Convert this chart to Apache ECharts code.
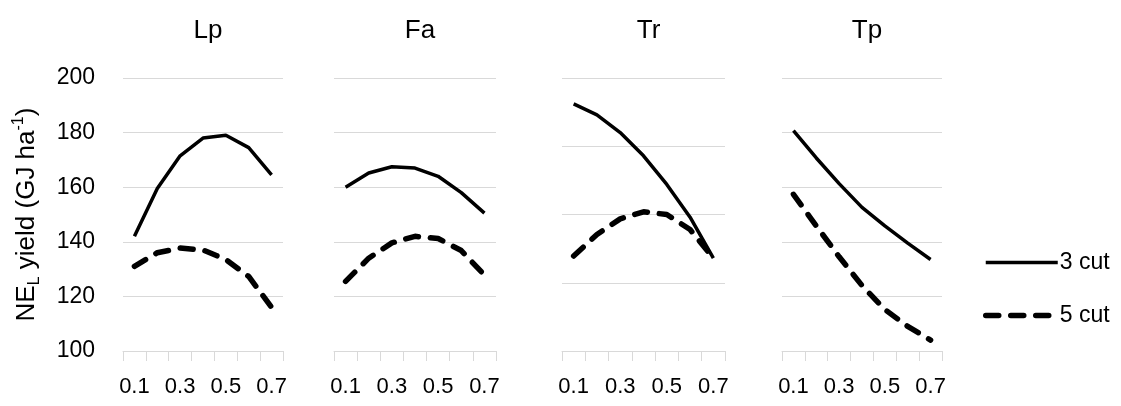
<!DOCTYPE html>
<html>
<head>
<meta charset="utf-8">
<script src="https://cdn.jsdelivr.net/npm/echarts@6/dist/echarts.min.js"></script>
<style>
  html, body { margin: 0; padding: 0; background: #fff; }
  #chart { width: 1121px; height: 406px; }
</style>
</head>
<body>
<div id="chart"></div>
<script>
const categories = ['0.1', '0.2', '0.3', '0.4', '0.5', '0.6', '0.7']
const panels = ['Lp', 'Fa', 'Tr', 'Tp']
const cut3 = [
  [142, 159.5, 171.5, 178, 179, 174.5, 164.5],
  [160, 165.2, 167.5, 167, 164, 158, 150.5],
  [190.5, 186.5, 180, 171.5, 161, 149, 134],
  [180.7, 170.7, 161.3, 152.6, 145.8, 139.5, 133.5],
]
const cut5 = [
  [131, 136, 137.7, 137, 133.5, 127.3, 116],
  [125.5, 134, 139.6, 142, 141.2, 136.8, 127.8],
  [134.8, 142.7, 148.4, 151, 150, 144.5, 134],
  [157.4, 145.8, 134.5, 124, 115.2, 109, 104],
]
const yIntervals = [20, 20, 25, 20]

const FONT = 'Liberation Sans'
const gridLeft = [123, 334, 562, 782]
const gridWidth = [160, 162, 163, 160]
const solidStyle = { color: '#000', width: 3.5 }
const dashStyle = { color: '#000', width: 5.5, type: [13, 12], cap: 'round' }

const chart = echarts.init(document.getElementById('chart'))

const option = {
  backgroundColor: '#fff',
  animation: false,
  textStyle: { fontFamily: FONT, color: '#000' },
  title: panels.map((p, i) => ({
    text: p,
    left: gridLeft[i] + gridWidth[i] / 2,
    top: 13,
    textAlign: 'center',
    textStyle: { fontFamily: FONT, fontSize: 26, fontWeight: 'normal', color: '#000' },
  })),
  legend: {
    orient: 'vertical',
    left: 978,
    top: 246,
    itemWidth: 72,
    itemHeight: 14,
    itemGap: 30,
    itemStyle: { opacity: 0 },
    textStyle: { fontFamily: FONT, fontSize: 23, color: '#000', padding: [0, 0, 0, -3] },
    data: [
      { name: '3 cut', lineStyle: solidStyle },
      { name: '5 cut', lineStyle: dashStyle },
    ],
  },
  grid: panels.map((p, i) => ({
    left: gridLeft[i],
    width: gridWidth[i],
    top: 78,
    height: 273,
  })),
  xAxis: panels.map((p, i) => ({
    type: 'category',
    gridIndex: i,
    data: categories,
    boundaryGap: true,
    axisLine: { lineStyle: { color: '#d9d9d9', width: 1 } },
    axisTick: { show: true, length: 10, interval: 0, lineStyle: { color: '#d9d9d9' } },
    axisLabel: { interval: 1, margin: 25, fontSize: 22, color: '#000', fontFamily: FONT },
    splitLine: { show: false },
  })),
  yAxis: panels.map((p, i) => ({
    type: 'value',
    gridIndex: i,
    min: 100,
    max: 200,
    interval: yIntervals[i],
    axisLine: { show: false },
    axisTick: { show: false },
    axisLabel: { show: i === 0, margin: 28, fontSize: 23, color: '#000', fontFamily: FONT },
    splitLine: { lineStyle: { color: '#d9d9d9', width: 1 } },
    name: i === 0 ? '{a|NE}{sub|L}{a| yield (GJ ha}{sup|-1}{a|)}' : '',
    nameLocation: 'middle',
    nameRotate: 90,
    nameGap: 80,
    nameTextStyle: {
      rich: {
        a: { fontSize: 26, fontFamily: FONT, color: '#000', lineHeight: 32, verticalAlign: 'middle' },
        sub: { fontSize: 16, fontFamily: FONT, color: '#000', lineHeight: 32, verticalAlign: 'bottom' },
        sup: { fontSize: 16, fontFamily: FONT, color: '#000', lineHeight: 32, verticalAlign: 'top' },
      },
    },
  })),
  series: [].concat(
    panels.map((p, i) => ({
      name: '3 cut',
      type: 'line',
      xAxisIndex: i,
      yAxisIndex: i,
      symbol: 'none',
      lineStyle: solidStyle,
      itemStyle: { color: '#000' },
      data: cut3[i],
    })),
    panels.map((p, i) => ({
      name: '5 cut',
      type: 'line',
      xAxisIndex: i,
      yAxisIndex: i,
      symbol: 'none',
      lineStyle: dashStyle,
      itemStyle: { color: '#000' },
      data: cut5[i],
    }))
  ),
}

chart.setOption(option)
</script>
</body>
</html>
